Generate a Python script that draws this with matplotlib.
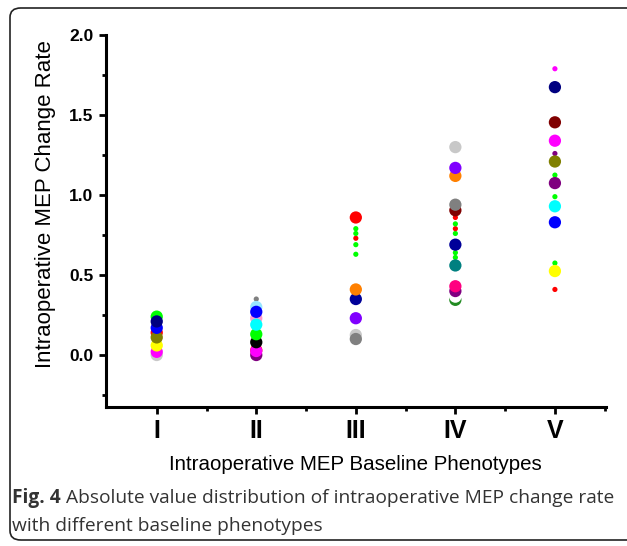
import numpy as np
import matplotlib
matplotlib.use("Agg")
import matplotlib.pyplot as plt
from matplotlib.patches import FancyBboxPatch

phenotypes = ['I', 'II', 'III', 'IV', 'V']

# large dots, listed in drawing order (later ones on top)
big_vals = [
    [0.00, 0.02, 0.06, 0.14, 0.11, 0.17, 0.24, 0.21],
    [0.00, 0.03, 0.025, 0.08, 0.13, 0.23, 0.19, 0.30, 0.27],
    [0.125, 0.10, 0.23, 0.35, 0.41, 0.86],
    [0.345, 0.365, 0.40, 0.43, 0.56, 0.69, 0.905, 0.94, 1.12, 1.17, 1.30],
    [0.525, 0.83, 0.93, 1.075, 1.21, 1.34, 1.455, 1.675],
]
big_colors = [
    ['#c8c8c8', '#ff00ff', '#ffff00', '#ff0000', '#808000', '#0000ff', '#00ff00', '#000080'],
    ['#800080', '#ff0000', '#ff00ff', '#000000', '#00ff00', '#ff99cc', '#00ffff', '#99e6ff', '#0000ff'],
    ['#c8c8c8', '#808080', '#8000ff', '#000099', '#ff8000', '#ff0000'],
    ['#228b22', '#ffffff', '#800080', '#ff0080', '#008080', '#000099', '#800000', '#808080', '#ff8000', '#8000ff', '#c8c8c8'],
    ['#ffff00', '#0000ff', '#00ffff', '#800080', '#808000', '#ff00ff', '#800000', '#000080'],
]

# small dots
small_vals = [
    [],
    [0.35],
    [0.63, 0.69, 0.73, 0.76, 0.79],
    [0.61, 0.64, 0.76, 0.79, 0.82, 0.86],
    [0.41, 0.575, 0.99, 1.125, 1.26, 1.79],
]
small_colors = [
    [],
    ['#808080'],
    ['#00ff00', '#00ff00', '#ff0000', '#00ff00', '#00ff00'],
    ['#00ff00', '#00ff00', '#00ff00', '#ff0000', '#00ff00', '#ff0000'],
    ['#ff0000', '#00ff00', '#00ff00', '#00ff00', '#800080', '#ff00ff'],
]

fig = plt.figure(figsize=(6.27, 5.46), dpi=100)
ax = fig.add_axes([0.169, 0.2546, 0.797, 0.681])

for i in range(len(phenotypes)):
    x = i + 1
    sv = small_vals[i]
    if sv:
        ax.scatter([x] * len(sv), sv, s=14, c=small_colors[i], edgecolors='none', zorder=2)
    bv = big_vals[i]
    ax.scatter([x] * len(bv), bv, s=78, c=big_colors[i], edgecolors='none', zorder=3)

ax.set_xlim(0.49, 5.51)
ax.set_ylim(-0.325, 2.0)
ax.set_xticks(range(1, 6))
ax.set_xticklabels(phenotypes)
ax.set_xticks(np.arange(1.5, 5.6, 1.0), minor=True)
ax.set_yticks([0.0, 0.5, 1.0, 1.5, 2.0])
ax.set_yticklabels(['0.0', '0.5', '1.0', '1.5', '2.0'])
ax.set_yticks(np.arange(-0.25, 2.0, 0.5), minor=True)

for s in ['top', 'right']:
    ax.spines[s].set_visible(False)
for s in ['left', 'bottom']:
    ax.spines[s].set_linewidth(2.2)

ax.tick_params(which='major', length=5, width=2, direction='out')
ax.tick_params(which='minor', length=3, width=2, direction='out')
ax.tick_params(axis='x', which='major', pad=4)
ax.tick_params(axis='y', which='major', pad=4)

for lbl in ax.get_xticklabels():
    lbl.set_fontfamily('Liberation Sans')
    lbl.set_fontweight('bold')
    lbl.set_fontsize(18)
for lbl in ax.get_yticklabels():
    lbl.set_fontfamily('Liberation Sans')
    lbl.set_fontweight('bold')
    lbl.set_fontsize(12.5)

ax.set_xlabel('Intraoperative MEP Baseline Phenotypes', fontfamily='Liberation Sans',
              fontsize=14.8, labelpad=8)
ax.set_ylabel('Intraoperative MEP Change Rate', fontfamily='Liberation Sans',
              fontsize=16)
ax.yaxis.set_label_coords(-0.10, 0.545)

# rounded frame around figure
frame = FancyBboxPatch((10 / 627, 6 / 546), 640 / 627, 532 / 546,
                       boxstyle='round,pad=0,rounding_size=0.017',
                       transform=fig.transFigure, fill=False,
                       edgecolor='#222222', linewidth=1.2)
fig.patches.append(frame)

# caption
cap_kw = dict(fontfamily='Open Sans', fontsize=13.8, color='#333333', transform=fig.transFigure,
              va='baseline', ha='left')
fig.canvas.draw()
t1 = fig.text(12 / 627, 1 - 503 / 546, 'Fig. 4', fontweight='bold', **cap_kw)
fig.canvas.draw()
bb = t1.get_window_extent()
fig.text(bb.x1 / 627 + 0.008, 1 - 503 / 546,
         'Absolute value distribution of intraoperative MEP change rate', **cap_kw)
fig.text(12 / 627, 1 - 531 / 546, 'with different baseline phenotypes', **cap_kw)

fig.savefig('out.png', dpi=100)
